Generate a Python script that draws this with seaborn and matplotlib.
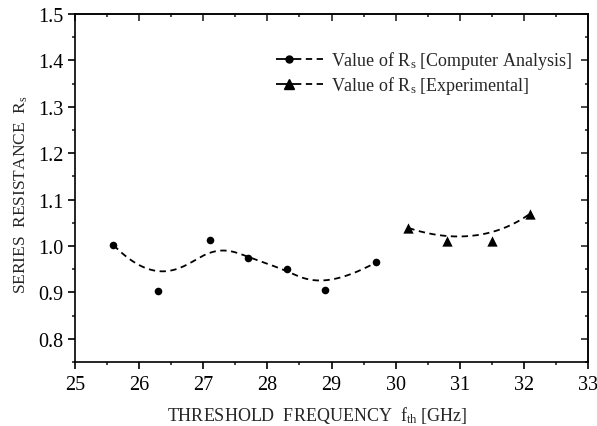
import numpy as np
import pandas as pd
import matplotlib
matplotlib.use("Agg")
import matplotlib.pyplot as plt
from matplotlib.lines import Line2D
import seaborn as sns

# ---- data ----
comp_freq = [25.6, 26.3, 27.1, 27.7, 28.3, 28.9, 29.7]
comp_rs = [1.002, 0.904, 1.013, 0.974, 0.950, 0.905, 0.965]
exp_freq = [30.2, 30.8, 31.5, 32.1]
exp_rs = [1.039, 1.011, 1.010, 1.070]

x_ticks = [25, 26, 27, 28, 29, 30, 31, 32, 33]
y_ticks = [0.8, 0.9, 1.0, 1.1, 1.2, 1.3, 1.4, 1.5]
label_comp = r"Value of R$_{\rm s}$ [Computer Analysis]"
label_exp = r"Value of R$_{\rm s}$ [Experimental]"
xlabel = r"THRESHOLD  FREQUENCY  f$_{\rm th}$ [GHz]"
ylabel = r"SERIES  RESISTANCE  R$_{\rm s}$"


def bspline(xs, ys, n=300, k=3):
    """Clamped uniform B-spline using the data points as control points."""
    P = np.column_stack([xs, ys]).astype(float)
    m = len(P)
    k = min(k, m - 1)
    inner = np.arange(1, m - k)
    t = np.concatenate([np.zeros(k + 1), inner, np.full(k + 1, m - k)]).astype(float)
    us = np.linspace(0, m - k, n)
    out = []
    for u in us:
        if u >= t[-1]:
            out.append(P[-1]); continue
        N = np.array([1.0 if (t[i] <= u < t[i + 1]) else 0.0 for i in range(len(t) - 1)])
        for d in range(1, k + 1):
            Nn = np.zeros(len(t) - 1 - d)
            for i in range(len(Nn)):
                a = 0.0
                if t[i + d] != t[i]:
                    a += (u - t[i]) / (t[i + d] - t[i]) * N[i]
                if t[i + d + 1] != t[i + 1]:
                    a += (t[i + d + 1] - u) / (t[i + d + 1] - t[i + 1]) * N[i + 1]
                Nn[i] = a
            N = Nn
        out.append(N[:m] @ P)
    out = np.array(out)
    return out[:, 0], out[:, 1]


class DashMarkerHandler:
    def __init__(self, marker, ms, lw, dashes, frac=0.28):
        self.marker, self.ms, self.lw, self.dashes, self.frac = marker, ms, lw, dashes, frac

    def legend_artist(self, legend, orig_handle, fontsize, handlebox):
        x0, y0 = handlebox.xdescent, handlebox.ydescent
        w, h = handlebox.width, handlebox.height
        yc = y0 + h / 2
        tr = handlebox.get_transform()
        xm = x0 + self.frac * w
        solid = Line2D([x0, xm + 0.12 * w], [yc, yc], color="black", lw=self.lw,
                       solid_capstyle="butt", transform=tr)
        dashed = Line2D([xm + 0.12 * w, x0 + w], [yc, yc], color="black", lw=self.lw,
                        dashes=self.dashes, transform=tr)
        mk = Line2D([xm], [yc], color="black", marker=self.marker, markersize=self.ms,
                    ls="none", transform=tr)
        for a in (solid, dashed, mk):
            handlebox.add_artist(a)
        return solid


sns.set_theme(style="ticks")
plt.rcParams["font.family"] = ["Liberation Serif", "DejaVu Serif"]
plt.rcParams["mathtext.fontset"] = "custom"
plt.rcParams["mathtext.rm"] = "Liberation Serif"
plt.rcParams["mathtext.it"] = "Liberation Serif:italic"

fig = plt.figure(figsize=(5.97, 4.27), dpi=100)
ax = fig.add_axes([75 / 597, 1 - 363 / 427, 513 / 597, 348 / 427])

lw = 1.3
dash = (3.5, 2.5)
cx, cy = bspline(comp_freq, comp_rs)
ex, ey = bspline(exp_freq, exp_rs)
sns.lineplot(x=cx, y=cy, ax=ax, color="black", lw=lw, sort=False, estimator=None)
sns.lineplot(x=ex, y=ey, ax=ax, color="black", lw=lw, sort=False, estimator=None)
for ln in ax.lines:
    ln.set_dashes(dash)
sns.scatterplot(x=comp_freq, y=comp_rs, ax=ax, color="black", marker="o", s=30,
                edgecolor="black", linewidth=0, zorder=3)
sns.scatterplot(x=exp_freq, y=exp_rs, ax=ax, color="black", marker="^", s=55,
                edgecolor="black", linewidth=0, zorder=3)

ax.set_xlim(25, 33)
ax.set_ylim(0.75, 1.5)
ax.set_xticks(x_ticks)
ax.set_xticklabels([str(v) for v in x_ticks])
ax.set_yticks(y_ticks)
ax.set_yticklabels([f"{v:.1f}" for v in y_ticks])
ax.set_xticks(np.arange(25.5, 33, 1.0), minor=True)
ax.set_yticks(np.arange(0.75, 1.5, 0.1), minor=True)

for s in ax.spines.values():
    s.set_linewidth(1.2)
    s.set_color("black")
ax.tick_params(which="major", direction="out", length=5, width=1.2, labelsize=14.5,
               colors="black")
ax.tick_params(axis="x", which="major", pad=4.5)
ax.tick_params(axis="y", which="major", pad=3.5)
ax.tick_params(which="minor", direction="out", length=2.5, width=1.2)

# top / right mirrored ticks pointing inward
top = ax.secondary_xaxis("top")
top.set_xticks(x_ticks)
top.set_xticks(np.arange(25.5, 33, 1.0), minor=True)
top.tick_params(which="major", direction="in", length=5, width=1.2, labeltop=False)
top.tick_params(which="minor", direction="in", length=2.5, width=1.2)
right = ax.secondary_yaxis("right")
right.set_yticks(y_ticks)
right.set_yticks(np.arange(0.75, 1.5, 0.1), minor=True)
right.tick_params(which="major", direction="in", length=5, width=1.2, labelright=False)
right.tick_params(which="minor", direction="in", length=2.5, width=1.2)
for sa in (top, right):
    for s in sa.spines.values():
        s.set_linewidth(1.2)

ax.set_xlabel(xlabel, fontsize=13)
ax.set_ylabel(ylabel, fontsize=12.5)
ax.xaxis.set_label_coords(0.473, -0.122)
ax.yaxis.set_label_coords(-0.088, 0.483)

h1 = Line2D([], [])
h2 = Line2D([], [])
ax.legend([h1, h2], [label_comp, label_exp], loc="upper left",
          bbox_to_anchor=(0.36, 0.945), frameon=False, fontsize=13,
          handlelength=2.6, handletextpad=0.45, labelspacing=0.15,
          handler_map={h1: DashMarkerHandler("o", 5, lw, dash),
                       h2: DashMarkerHandler("^", 7, lw, dash)})

fig.savefig("out.png", dpi=100)
